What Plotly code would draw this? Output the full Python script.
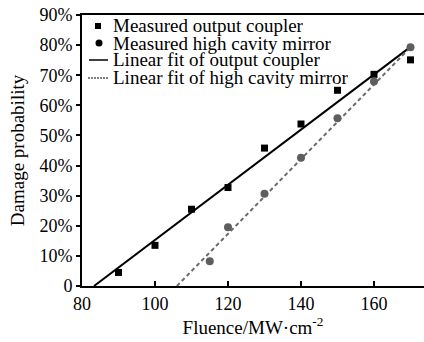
import plotly.graph_objects as go

# ---- data ----
oc_fluence = [90, 100, 110, 120, 130, 140, 150, 160, 170]
oc_prob = [4.5, 13.5, 25.5, 32.7, 45.8, 53.8, 65.0, 70.3, 75.1]

hcm_fluence = [115, 120, 130, 140, 150, 160, 170]
hcm_prob = [8.2, 19.5, 30.6, 42.6, 55.7, 67.9, 79.3]

oc_fit_x = [83.3, 170]
oc_fit_y = [0, 79.4]
hcm_fit_x = [106, 170]
hcm_fit_y = [0, 79.3]

x_ticks = [80, 100, 120, 140, 160]
y_ticks = [0, 10, 20, 30, 40, 50, 60, 70, 80, 90]
y_tick_text = ["0", "10%", "20%", "30%", "40%", "50%", "60%", "70%", "80%", "90%"]

legend_labels = [
    "Measured output coupler",
    "Measured high cavity mirror",
    "Linear fit of output coupler",
    "Linear fit of high cavity mirror",
]

FONT = "Liberation Serif, Times New Roman, serif"
W, H = 424, 342
ML, MR, MT, MB = 82, 0, 15, 56
PW, PH = W - ML - MR, H - MT - MB


def px(x):
    return (x - ML) / PW


def py(y):
    return (H - MB - y) / PH


fig = go.Figure()
fig.add_trace(go.Scatter(x=oc_fit_x, y=oc_fit_y, mode="lines",
                         line=dict(color="black", width=2), showlegend=False))
fig.add_trace(go.Scatter(x=hcm_fit_x, y=hcm_fit_y, mode="lines",
                         line=dict(color="#6a6a6a", width=2, dash="4px,3px"), showlegend=False))
fig.add_trace(go.Scatter(x=oc_fluence, y=oc_prob, mode="markers",
                         marker=dict(symbol="square", size=7, color="black"), showlegend=False))
fig.add_trace(go.Scatter(x=hcm_fluence, y=hcm_prob, mode="markers",
                         marker=dict(symbol="circle", size=8, color="#5e5e5e"), showlegend=False))

# legend (custom, tight row spacing as in reference)
row_y = [25, 43, 60, 78]
for lab, yy in zip(legend_labels, row_y):
    fig.add_annotation(x=px(111), y=py(yy), xref="paper", yref="paper", text=lab,
                       showarrow=False, xanchor="left", yanchor="middle",
                       font=dict(family=FONT, size=19, color="black"))
shapes = [
    dict(type="rect", xref="paper", yref="paper", x0=px(95), x1=px(101), y0=py(29), y1=py(23),
         fillcolor="black", line=dict(width=0)),
    dict(type="circle", xref="paper", yref="paper", x0=px(95.5), x1=px(102.5), y0=py(46.5), y1=py(39.5),
         fillcolor="black", line=dict(width=0)),
    dict(type="line", xref="paper", yref="paper", x0=px(89), x1=px(108), y0=py(60), y1=py(60),
         line=dict(color="black", width=1.5)),
    dict(type="line", xref="paper", yref="paper", x0=px(88), x1=px(108), y0=py(78), y1=py(78),
         line=dict(color="black", width=1.2, dash="2px,1px")),
]
fig.update_layout(shapes=shapes)

fig.update_layout(
    width=W, height=H,
    margin=dict(l=ML, r=MR, t=MT, b=MB),
    plot_bgcolor="white", paper_bgcolor="white",
    font=dict(family=FONT, size=18, color="black"),
    showlegend=False,
    xaxis=dict(range=[80, 173.7], tickvals=x_ticks, ticks="inside", ticklen=5,
               tickwidth=1.5, tickcolor="black", showline=True, linecolor="black",
               linewidth=2, mirror=True, showgrid=False, zeroline=False,
               tickfont=dict(family=FONT, size=18),
               title=dict(text="Fluence/MW·cm<sup>-2</sup>", font=dict(family=FONT, size=19), standoff=4)),
    yaxis=dict(range=[0, 90], tickvals=y_ticks, ticktext=y_tick_text, ticks="outside",
               ticklen=4, tickwidth=1.5, tickcolor="black", showline=True,
               linecolor="black", linewidth=2, showgrid=False, zeroline=False,
               tickfont=dict(family=FONT, size=18),
               title=dict(text="Damage probability", font=dict(family=FONT, size=19), standoff=10)),
)

fig.write_html("out.html")
